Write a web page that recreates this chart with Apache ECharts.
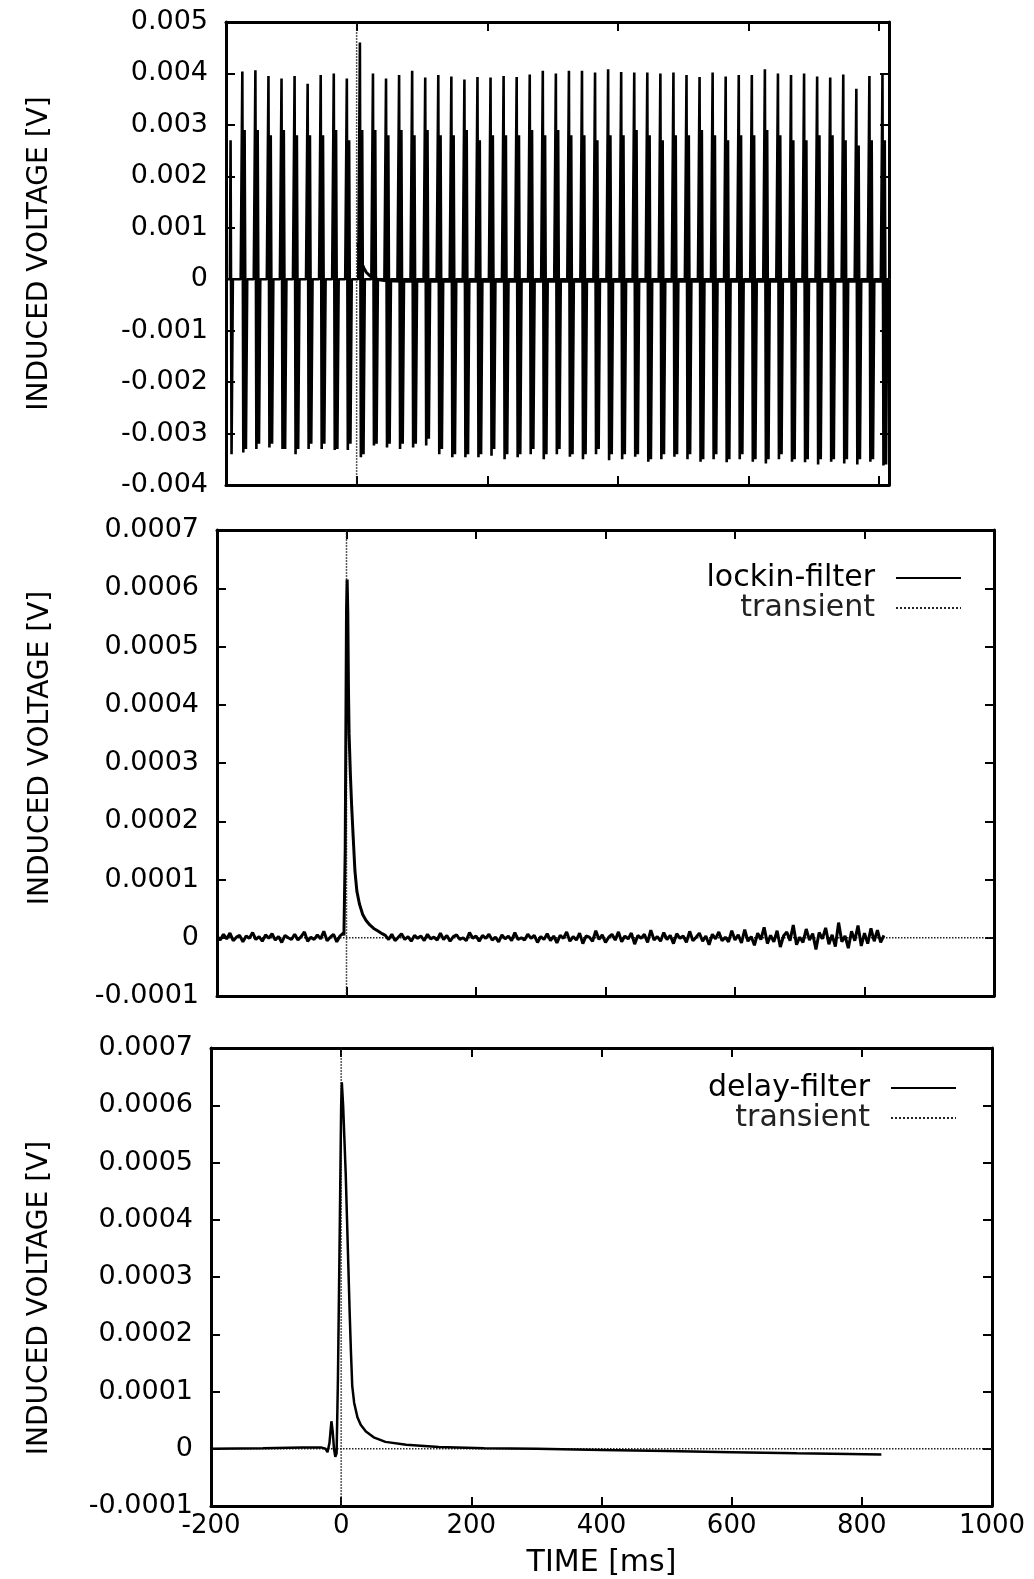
<!DOCTYPE html>
<html>
<head>
<meta charset="utf-8">
<title>Induced voltage</title>
<script src="https://cdn.jsdelivr.net/npm/echarts@6/dist/echarts.min.js"></script>
<style>
  html, body { margin: 0; padding: 0; background: #fff; }
  #main { width: 1034px; height: 1579px; }
</style>
</head>
<body>
<div id="main"></div>
<script>
var FONT = 'DejaVu Sans';

// ---- top panel: raw signal with 50 Hz hum bursts ----
var humPeakTime = [-175, -155, -135, -115, -95, -75, -55, -35, -15, 5, 25, 45, 65, 85, 105, 125, 145, 165, 185, 205,
  225, 245, 265, 285, 305, 325, 345, 365, 385, 405, 425, 445, 465, 485, 505, 525, 545, 565, 585, 605,
  625, 645, 665, 685, 705, 725, 745, 765, 785, 805];
var humPeak = [0.00404, 0.00406, 0.00395, 0.0039, 0.00395, 0.0038, 0.00397, 0.004, 0.0039, 0.0046,
  0.004, 0.0039, 0.00397, 0.00405, 0.00392, 0.00397, 0.00394, 0.00388, 0.00393, 0.00392,
  0.00395, 0.00393, 0.00398, 0.00405, 0.004, 0.00405, 0.00405, 0.00402, 0.00408, 0.00403,
  0.00402, 0.00402, 0.004, 0.00402, 0.00397, 0.00393, 0.00402, 0.00394, 0.00397, 0.00397,
  0.00408, 0.004, 0.00397, 0.004, 0.00394, 0.00392, 0.00398, 0.0037, 0.00395, 0.00397];
var humShoulder = [0.0029, 0.0029, 0.0028, 0.0029, 0.0028, 0.0028, 0.0028, 0.0029, 0.0027, 0.0029,
  0.0029, 0.0028, 0.0029, 0.0028, 0.0029, 0.0028, 0.0028, 0.0029, 0.0027, 0.0028,
  0.0028, 0.0028, 0.0029, 0.0028, 0.0029, 0.0028, 0.0028, 0.0027, 0.0028, 0.0028,
  0.0029, 0.0028, 0.0027, 0.0028, 0.0028, 0.0029, 0.0028, 0.0027, 0.0028, 0.0028,
  0.0029, 0.0028, 0.0027, 0.0027, 0.0028, 0.0028, 0.0027, 0.0026, 0.0027, 0.0027];
var humTrough = [-0.00337, -0.0033, -0.00327, -0.0033, -0.0034, -0.0033, -0.0033, -0.00332, -0.00332, -0.00346,
  -0.00323, -0.00327, -0.0033, -0.00327, -0.00323, -0.0034, -0.00346, -0.00346, -0.00346, -0.00343,
  -0.0035, -0.00346, -0.0034, -0.0035, -0.0034, -0.00345, -0.0035, -0.0034, -0.00352, -0.0035,
  -0.00345, -0.00355, -0.0035, -0.00345, -0.0035, -0.00355, -0.0035, -0.00356, -0.0035, -0.00355,
  -0.00358, -0.0035, -0.00355, -0.00356, -0.0036, -0.00355, -0.00358, -0.0036, -0.00355, -0.00362];
var humTrough2 = [-0.0033, -0.0032, -0.0032, -0.0033, -0.0033, -0.0032, -0.0032, -0.0033, -0.0032, -0.0034,
  -0.0032, -0.0032, -0.0032, -0.0032, -0.0031, -0.0033, -0.0034, -0.0034, -0.0034, -0.0033,
  -0.0034, -0.0034, -0.0033, -0.0034, -0.0033, -0.0034, -0.0034, -0.0033, -0.0034, -0.0034,
  -0.0034, -0.0035, -0.0034, -0.0034, -0.0034, -0.0035, -0.0034, -0.0035, -0.0034, -0.0035,
  -0.0035, -0.0034, -0.0035, -0.0035, -0.0035, -0.0035, -0.0035, -0.0035, -0.0035, -0.0036];
var humRest = 0;
var humStart = [[-200, 0], [-194, 0], [-193, 0.0027], [-191.5, -0.0034], [-189.5, 0]];
var humEnd = [815, 0];

// solid recovered curve in the top panel
var recT = [2, 4, 6, 8, 11, 15, 20, 26, 34, 45, 70, 200, 400, 600, 808];
var recV = [0.0007, 0.00052, 0.0004, 0.00031, 0.00022, 0.00013, 0.00007, 0.00002, -0.00001, -0.00003,
  -0.00004, -0.00004, -0.00004, -0.00004, -0.00004];

// ---- middle panel: lockin-filter (values in microvolts) ----
var lockinStep = 5;
var lockinPreStart = -200;
var lockinPreUV = [3, -4, 6, -2, 8, -5, 1, 4, -7, 3, -1, 9, -3, 2, -6, 5, -1, 7, -4, 2,
  -8, 4, 0, -3, 6, -4, 2, 10, -6, 1, -3, 5, -2, 11, -5, 1, 6, -7, 3, 8];
var lockinSpikeT = [-4, -2, 0, 1, 2, 3, 4, 6, 8, 10, 13, 16, 20, 25, 30, 36, 42, 48, 55];
var lockinSpikeUV = [4, 150, 560, 615, 560, 430, 350, 280, 225, 180, 115, 80, 58, 40, 30, 22, 16, 12, 7];
var lockinPostStart = 60;
var lockinPostUV = [4, -3, 6, -5, 1, 7, -3, 2, -6, 4, -1, 3, -5, 6, -2, 1, -4, 8, -3, 4,
  -6, 2, 5, -3, 0, -5, 9, -1, 3, -6, 4, -1, 6, -4, 1, -7, 5, -2, 3, -5,
  9, -3, 0, -4, 6, -1, 4, -8, 2,
  -3, 7, -5, 3, -9, 4, -1, 10, -6, 2, -4, 8, -10, 3, 1, -6, 12, -3, 5, -8,
  1, 6, -4, 10, -7, 3, -2, 8, -11, 4, -1, 6, -8, 13, -4, 2, -6, 9, -3, 4,
  -10, 7, -1, 3, -8, 11, -5, 1, 8, -6, 3, -12, 6, -2, 10, -5, 1, -7, 12, -4,
  5, -9, 14, -6, 2, -13, 8, -3, 18, -10, 4, -7, 12, -16, 3, 10, -5, 22, -12, 1,
  -8, 15, -4, 7, -20, 9, -2, 17, -11, 5, -15, 26, -7, 3, -18, 11, -5, 21, -14, 8,
  -10, 16, -6, 13, -8, 4];

// ---- bottom panel: delay-filter (microvolts) ----
var delayT = [-200, -120, -60, -30, -24, -21, -18, -15, -13, -11, -9, -7, -5, -2, 0, 1, 3, 5, 7, 9,
  11, 13, 15, 17, 20, 25, 30, 38, 50, 68, 100, 150, 220, 300, 400, 500, 600, 700, 780, 830];
var delayUV = [0, 1, 2, 2, 0, -6, 10, 48, 30, 0, -14, -8, 120, 400, 600, 640, 600, 540, 480, 400,
  320, 240, 170, 110, 80, 55, 42, 30, 20, 12, 7, 3, 1, 0, -2, -4, -6, -8, -9, -10];

// transient reference (impulse at t = 0)
var transT = [-200, 1000];
var transV = [0, 0];
var impulseT = [0, 0];
var impulseV = [-1, 1];

function pairs(ts, vs, scale) {
  return ts.map(function (t, i) { return [t, vs[i] * scale]; });
}
function stepped(start, step, vs, scale) {
  return vs.map(function (v, i) { return [start + i * step, v * scale]; });
}

var humData = humStart.slice();
humPeakTime.forEach(function (tp, i) {
  humData.push([tp - 2.5, humRest]);
  humData.push([tp, humPeak[i]]);
  humData.push([tp + 1.5, humTrough[i]]);
  humData.push([tp + 3.5, humShoulder[i]]);
  humData.push([tp + 5.5, humTrough2[i]]);
  humData.push([tp + 7.5, humRest]);
});
humData.push(humEnd);

var lockinData = stepped(lockinPreStart, lockinStep, lockinPreUV, 1e-6)
  .concat(pairs(lockinSpikeT, lockinSpikeUV, 1e-6))
  .concat(stepped(lockinPostStart, lockinStep, lockinPostUV, 1e-6));
var delayData = pairs(delayT, delayUV, 1e-6);

var chart = echarts.init(document.getElementById('main'), null, { renderer: 'canvas' });

var grids = [
  { left: 226, top: 22, width: 663, height: 463 },
  { left: 217, top: 530, width: 777, height: 466 },
  { left: 211, top: 1048, width: 781, height: 466 }
];

var lineAx = { show: true, onZero: false, lineStyle: { color: '#000', width: 3 } };
var tickAx = { show: true, inside: true, length: 9, lineStyle: { color: '#000', width: 2 } };

function xAxes(gi, max, withLabels) {
  var bottom = {
    type: 'value', gridIndex: gi, position: 'bottom', min: -200, max: max, interval: 200,
    axisLine: lineAx, axisTick: tickAx, splitLine: { show: false },
    axisLabel: {
      show: withLabels, margin: 7, color: '#000', fontSize: 26, fontFamily: FONT,
      formatter: function (v) { return String(v); }
    }
  };
  if (withLabels) {
    bottom.name = 'TIME [ms]';
    bottom.nameLocation = 'middle';
    bottom.nameGap = 42;
    bottom.nameTextStyle = { color: '#000', fontSize: 30, fontFamily: FONT };
  }
  var top = {
    type: 'value', gridIndex: gi, position: 'top', min: -200, max: max, interval: 200,
    axisLine: lineAx, axisTick: tickAx, splitLine: { show: false }, axisLabel: { show: false }
  };
  return [bottom, top];
}

function yAxes(gi, min, max, step, digits, gap, pad) {
  var fmt = function (v) { return Math.abs(v) < 1e-12 ? '0' : v.toFixed(digits); };
  var left = {
    type: 'value', gridIndex: gi, position: 'left', min: min, max: max, interval: step,
    axisLine: lineAx, axisTick: tickAx, splitLine: { show: false },
    axisLabel: { margin: 18, color: '#000', fontSize: 27, fontFamily: FONT, formatter: fmt },
    name: 'INDUCED VOLTAGE [V]', nameLocation: 'middle', nameGap: gap,
    nameTextStyle: { color: '#000', fontSize: 28, fontFamily: FONT, padding: pad }
  };
  var right = {
    type: 'value', gridIndex: gi, position: 'right', min: min, max: max, interval: step,
    axisLine: lineAx, axisTick: tickAx, splitLine: { show: false }, axisLabel: { show: false }
  };
  return [left, right];
}

var xAxis = [].concat(xAxes(0, 815, false), xAxes(1, 1000, false), xAxes(2, 1000, true));
var yAxis = [].concat(
  yAxes(0, -0.004, 0.005, 0.001, 3, 172, [0, 0, 0, 0]),
  yAxes(1, -0.0001, 0.0007, 0.0001, 4, 162, [0, 0, 0, 30]),
  yAxes(2, -0.0001, 0.0007, 0.0001, 4, 157, [0, 42, 0, 0])
);

function solid(name, gi, data, width) {
  return {
    name: name, type: 'line', xAxisIndex: gi * 2, yAxisIndex: gi * 2, data: data,
    symbol: 'none', showSymbol: false, animation: false, z: 3,
    itemStyle: { color: '#000' },
    lineStyle: { color: '#000', width: width }
  };
}
function dotted(gi, ts, vs) {
  return {
    name: 'transient', type: 'line', xAxisIndex: gi * 2, yAxisIndex: gi * 2,
    data: pairs(ts, vs, 1), symbol: 'none', showSymbol: false, animation: false, z: 2,
    itemStyle: { color: '#222' },
    lineStyle: { color: '#222', width: 1.5, type: 'dotted' }
  };
}

var series = [
  dotted(0, transT, transV), dotted(0, impulseT, impulseV),
  solid('signal', 0, humData, 2.6),
  solid('recovered', 0, pairs(recT, recV, 1), 3),
  dotted(1, transT, transV), dotted(1, impulseT, impulseV),
  solid('lockin-filter', 1, lockinData, 3),
  dotted(2, transT, transV), dotted(2, impulseT, impulseV),
  solid('delay-filter', 2, delayData, 2.5)
];

function legendFor(name, right, top) {
  return {
    data: [name, 'transient'], orient: 'vertical', align: 'right', right: right, top: top,
    itemWidth: 65, itemHeight: 14, itemGap: 0, selectedMode: false,
    itemStyle: { opacity: 0 },
    formatter: function (n) { return n === 'transient' ? '{t|' + n + '}' : '{b|' + n + '}'; },
    textStyle: {
      rich: {
        b: { fontSize: 30, fontFamily: FONT, color: '#000', lineHeight: 28, padding: [0, 16, 0, 0] },
        t: { fontSize: 30, fontFamily: FONT, color: '#222', lineHeight: 28, padding: [0, 16, 0, 0] }
      }
    }
  };
}

var option = {
  backgroundColor: '#ffffff',
  animation: false,
  grid: grids,
  xAxis: xAxis,
  yAxis: yAxis,
  legend: [legendFor('lockin-filter', 67, 558), legendFor('delay-filter', 72, 1068)],
  series: series
};

chart.setOption(option);
</script>
</body>
</html>
